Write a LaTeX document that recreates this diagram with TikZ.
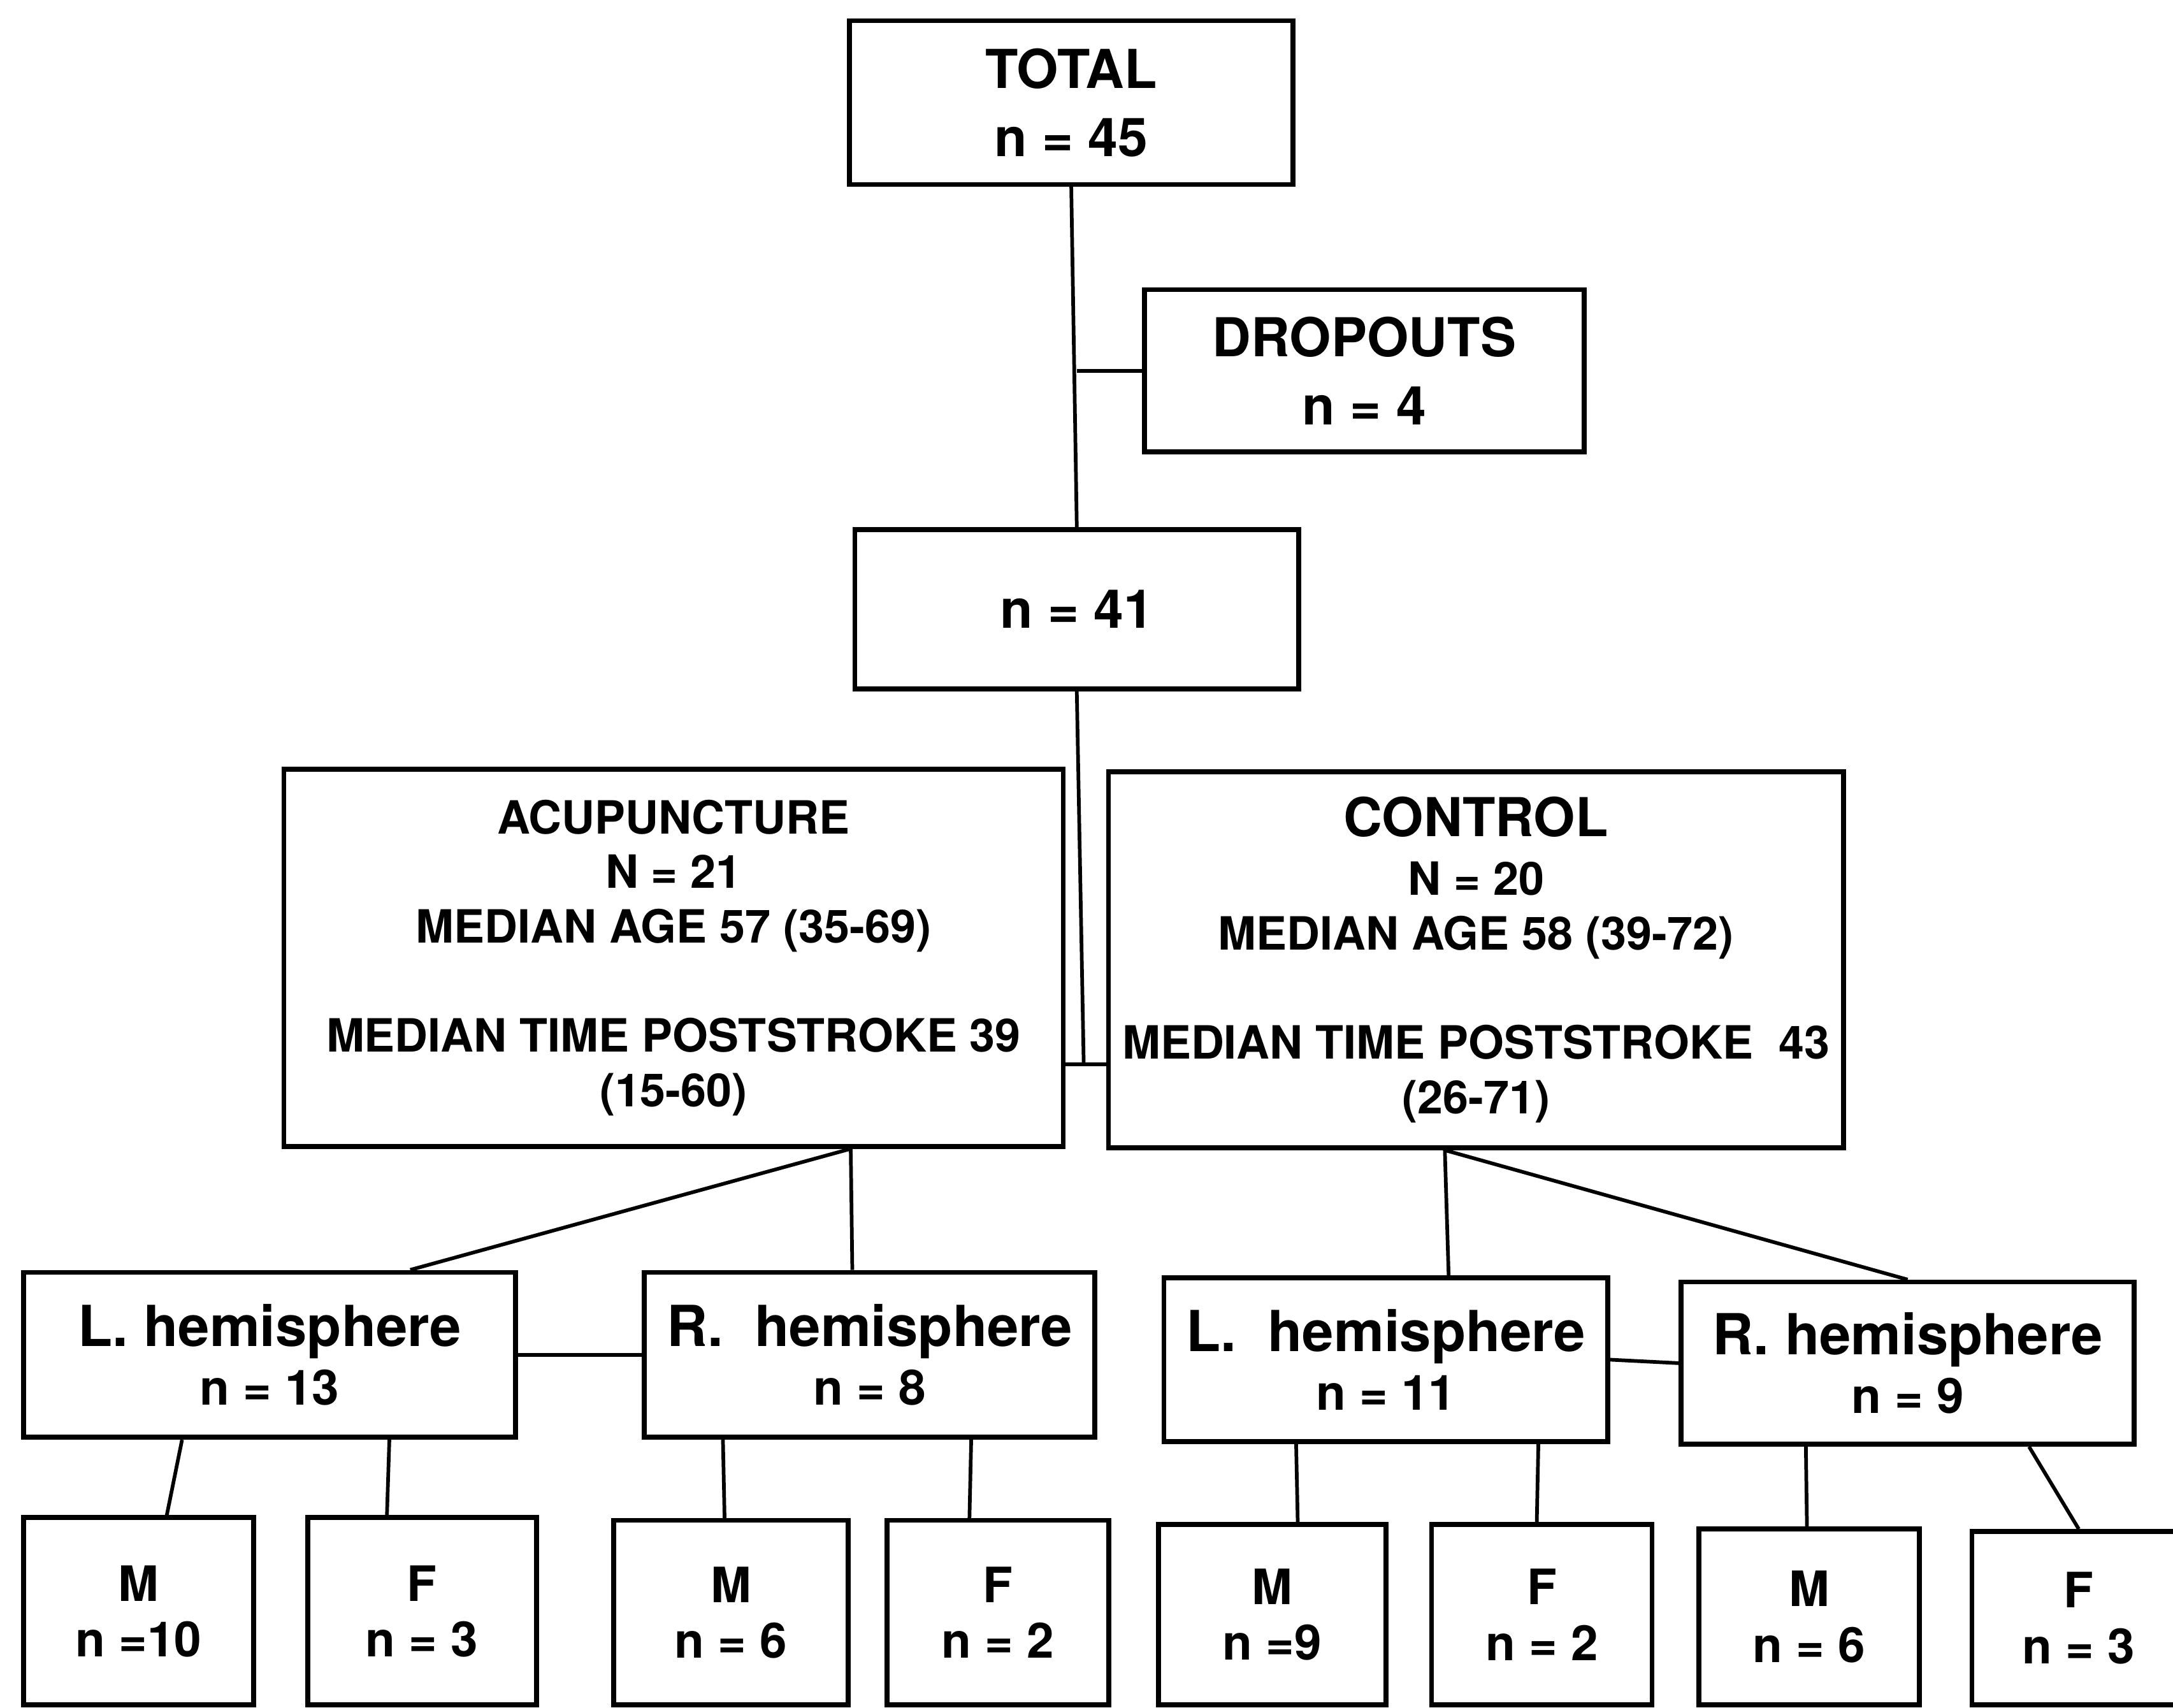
\documentclass[tikz,border=0pt]{standalone}
\usepackage{fontspec}
\setmainfont{TeX Gyre Heros}
\usetikzlibrary{calc, positioning}
\tikzset{
  box/.style={draw, line width=1pt, align=center, inner sep=0pt,
    font=\bfseries\fontsize{9.4}{11.2}\selectfont},
  bigbox/.style={box, font=\bfseries\fontsize{11}{14}\selectfont},
  hemibox/.style={box, font=\bfseries\fontsize{10}{12}\selectfont},
  sexbox/.style={box, font=\bfseries\fontsize{10}{11.4}\selectfont},
  link/.style={line width=0.75pt},
}
\begin{document}
\begin{tikzpicture}[x=0.01cm, y=-0.01cm]
  \useasboundingbox (0,0) rectangle (1568,1232);
  \clip (0,0) rectangle (1568,1232);
  % top of the tree
  \node[bigbox, minimum width=3.20cm, minimum height=1.18cm] (total) at (773,74) {TOTAL\\n = 45};
  \node[bigbox, minimum width=3.17cm, minimum height=1.17cm] (drop) at (984.5,267.5) {DROPOUTS\\n = 4};
  \node[bigbox, minimum width=3.20cm, minimum height=1.15cm] (n41) at (777,439.5) {n = 41};
  % the two groups
  \node[box, minimum width=5.62cm, minimum height=2.72cm] (acu) at (486,691)
    {ACUPUNCTURE\\N = 21\\MEDIAN AGE 57 (35-69)\\[11.2pt]MEDIAN TIME POSTSTROKE 39\\(15-60)};
  \node[box, minimum width=5.30cm, minimum height=2.71cm] (ctrl) at (1065,692.5)
    {{\fontsize{11}{14}\selectfont CONTROL}\\[0.8pt]N = 20\\MEDIAN AGE 58 (39-72)\\[11.2pt]MEDIAN TIME POSTSTROKE\ \ 43\\(26-71)};
  % hemispheres
  \node[hemibox, minimum width=3.55cm, minimum height=1.19cm] (lhA) at (194.5,977.5)
    {{\fontsize{11.6}{14}\selectfont L. hemisphere}\\n = 13};
  \node[hemibox, minimum width=3.25cm, minimum height=1.19cm] (rhA) at (627.5,977.5)
    {{\fontsize{11.6}{14}\selectfont R.\ \ hemisphere}\\n = 8};
  \node[hemibox, minimum width=3.20cm, minimum height=1.18cm] (lhC) at (1000,981)
    {{\fontsize{11.6}{14}\selectfont L.\ \ hemisphere}\\n = 11};
  \node[hemibox, minimum width=3.27cm, minimum height=1.17cm] (rhC) at (1376.5,983.5)
    {{\fontsize{11.6}{14}\selectfont R. hemisphere}\\n = 9};
  % sexes
  \node[sexbox, minimum width=1.66cm, minimum height=1.35cm] (mA1) at (100,1162.5) {M\\n =10};
  \node[sexbox, minimum width=1.65cm, minimum height=1.35cm] (fA1) at (304.5,1162.5) {F\\n = 3};
  \node[sexbox, minimum width=1.69cm, minimum height=1.33cm] (mA2) at (527.5,1163.5) {M\\n = 6};
  \node[sexbox, minimum width=1.60cm, minimum height=1.33cm] (fA2) at (720,1163.5) {F\\n = 2};
  \node[sexbox, minimum width=1.64cm, minimum height=1.30cm] (mC1) at (918,1165) {M\\n =9};
  \node[sexbox, minimum width=1.59cm, minimum height=1.30cm] (fC1) at (1112.5,1165) {F\\n = 2};
  \node[sexbox, minimum width=1.59cm, minimum height=1.27cm] (mC2) at (1305.5,1166.5) {M\\n = 6};
  \node[sexbox, minimum width=1.54cm, minimum height=1.25cm] (fC2) at (1500,1167.5) {F\\n = 3};
  % trunk
  \coordinate (split) at (782,768);
  \draw[link] (total.south) -- (n41.north);
  \draw[link] (drop.west) -- (drop.west -| n41.north);
  \draw[link] (n41.south) -- (split);
  \draw[link] (acu.east |- split) -- (ctrl.west |- split);
  % branches to hemispheres
  \coordinate (acuFoot) at ($(acu.south west)!0.726!(acu.south east)$);
  \coordinate (ctrlFoot) at ($(ctrl.south west)!0.458!(ctrl.south east)$);
  \draw[link] (acuFoot) -- ($(lhA.north west)!0.783!(lhA.north east)$);
  \draw[link] (acuFoot) -- ($(rhA.north west)!0.462!(rhA.north east)$);
  \draw[link] (ctrlFoot) -- ($(lhC.north west)!0.64!(lhC.north east)$);
  \draw[link] (ctrlFoot) -- (rhC.north);
  \draw[link] (lhA.east) -- (rhA.west);
  \draw[link] (lhC.east) -- (rhC.west);
  % branches to M / F
  \draw[link] ($(lhA.south west)!0.324!(lhA.south east)$) -- ($(mA1.north west)!0.62!(mA1.north east)$);
  \draw[link] ($(lhA.south west)!0.741!(lhA.south east)$) -- ($(fA1.north west)!0.35!(fA1.north east)$);
  \draw[link] ($(rhA.south west)!0.178!(rhA.south east)$) -- ($(mA2.north west)!0.473!(mA2.north east)$);
  \draw[link] ($(rhA.south west)!0.723!(rhA.south east)$) -- ($(fA2.north west)!0.375!(fA2.north east)$);
  \draw[link] ($(lhC.south west)!0.3!(lhC.south east)$) -- ($(mC1.north west)!0.61!(mC1.north east)$);
  \draw[link] ($(lhC.south west)!0.84!(lhC.south east)$) -- ($(fC1.north west)!0.478!(fC1.north east)$);
  \draw[link] ($(rhC.south west)!0.278!(rhC.south east)$) -- ($(mC2.north west)!0.49!(mC2.north east)$);
  \draw[link] ($(rhC.south west)!0.765!(rhC.south east)$) -- (fC2.north);
\end{tikzpicture}
\end{document}
